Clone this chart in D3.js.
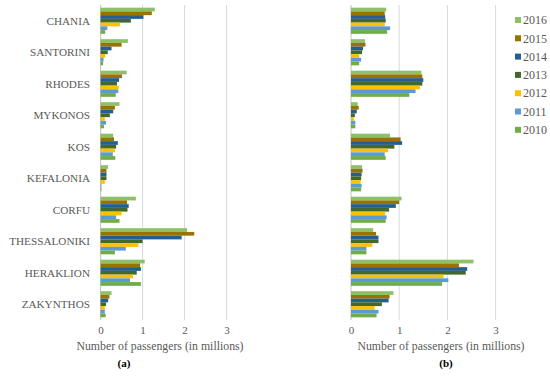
<!DOCTYPE html>
<html lang="en">
<head>
    <meta charset="UTF-8">
    <title>Passengers per airport</title>
    <script src="https://cdn.jsdelivr.net/npm/d3@7/dist/d3.min.js"></script>
    <style>
        body { margin: 0; background: #fff; }
    </style>
</head>
<body>
    <script>
        var categories = ["CHANIA", "SANTORINI", "RHODES", "MYKONOS", "KOS",
                          "KEFALONIA", "CORFU", "THESSALONIKI", "HERAKLION", "ZAKYNTHOS"];
        var years = ["2016", "2015", "2014", "2013", "2012", "2011", "2010"];
        var colors = ["#8cc168", "#997300", "#255e91", "#43682b", "#ffc000", "#5b9bd5", "#70ad47"];
        var xTicks = [0, 1, 2, 3];

        // panel (a), one array per year in category order
        var a2016 = [1.29, 0.65, 0.62, 0.45, 0.30, 0.18, 0.84, 2.06, 1.05, 0.26];
        var a2015 = [1.22, 0.50, 0.51, 0.34, 0.32, 0.14, 0.63, 2.23, 0.94, 0.21];
        var a2014 = [1.02, 0.26, 0.44, 0.30, 0.41, 0.14, 0.67, 1.93, 0.96, 0.18];
        var a2013 = [0.72, 0.17, 0.39, 0.22, 0.37, 0.14, 0.64, 1.00, 0.86, 0.13];
        var a2012 = [0.46, 0.11, 0.43, 0.10, 0.34, 0.10, 0.50, 0.90, 0.77, 0.10];
        var a2011 = [0.16, 0.07, 0.42, 0.13, 0.29, 0.02, 0.37, 0.60, 0.70, 0.10];
        var a2010 = [0.11, 0.06, 0.36, 0.08, 0.35, 0.02, 0.45, 0.34, 0.96, 0.12];

        // panel (b)
        var b2016 = [0.73, 0.29, 1.46, 0.14, 0.81, 0.23, 1.05, 0.46, 2.54, 0.88];
        var b2015 = [0.70, 0.30, 1.48, 0.16, 1.03, 0.24, 1.00, 0.52, 2.24, 0.80];
        var b2014 = [0.71, 0.25, 1.50, 0.12, 1.06, 0.22, 0.93, 0.57, 2.41, 0.78];
        var b2013 = [0.72, 0.23, 1.48, 0.08, 0.90, 0.21, 0.79, 0.57, 2.38, 0.64];
        var b2012 = [0.70, 0.17, 1.43, 0.06, 0.77, 0.20, 0.71, 0.44, 1.92, 0.49];
        var b2011 = [0.81, 0.21, 1.34, 0.09, 0.70, 0.22, 0.74, 0.32, 2.02, 0.57];
        var b2010 = [0.75, 0.17, 1.21, 0.09, 0.72, 0.21, 0.72, 0.32, 1.89, 0.53];

        var seriesA = [a2016, a2015, a2014, a2013, a2012, a2011, a2010];
        var seriesB = [b2016, b2015, b2014, b2013, b2012, b2011, b2010];

        var serif = "'Liberation Serif', 'Times New Roman', Times, serif";

        var width = 550, height = 377;
        var svg = d3.select("body").append("svg")
                .attr("width", width).attr("height", height)
                .style("font-family", serif);

        var y = d3.scaleBand().domain(categories).range([5, 320])
                .paddingInner(0.17).paddingOuter(0.085);
        var yInner = d3.scaleBand().domain(years).range([0, y.bandwidth()]);
        var color = d3.scaleOrdinal().domain(years).range(colors);

        /* one panel */
        function drawPanel(series, x, titleX, tag) {
            var g = svg.append("g");

            // gridlines
            g.selectAll("line.grid").data(xTicks).enter().append("line")
                    .attr("x1", function(d){ return x(d); })
                    .attr("x2", function(d){ return x(d); })
                    .attr("y1", 5).attr("y2", 320)
                    .attr("stroke", function(d){ return d === 0 ? "#bfbfbf" : "#d9d9d9"; })
                    .attr("stroke-width", 1);

            // bars
            var rows = [];
            categories.forEach(function(c, i){
                years.forEach(function(yr, j){
                    rows.push({cat: c, year: yr, value: series[j][i]});
                });
            });
            g.selectAll("rect").data(rows).enter().append("rect")
                    .attr("x", x(0))
                    .attr("y", function(d){ return y(d.cat) + yInner(d.year); })
                    .attr("width", function(d){ return x(d.value) - x(0); })
                    .attr("height", yInner.bandwidth())
                    .attr("fill", function(d){ return color(d.year); });

            // x axis labels
            var axis = d3.axisBottom(x).tickValues(xTicks).tickFormat(d3.format("d"))
                    .tickSize(0).tickPadding(0);
            var ax = g.append("g").attr("transform", "translate(0,326)").call(axis)
                    .attr("font-family", serif).attr("font-size", 11);
            ax.select(".domain").remove();
            ax.selectAll("text").attr("fill", "#595959");

            g.append("text").attr("x", titleX).attr("y", 350)
                    .attr("text-anchor", "middle").attr("font-size", "11.8px")
                    .attr("fill", "#595959")
                    .text("Number of passengers (in millions)");

            g.append("text").attr("x", tag.x).attr("y", 367)
                    .attr("text-anchor", "middle").attr("font-size", "11px")
                    .attr("font-weight", "bold").attr("fill", "#000")
                    .text(tag.label);
        }

        var xA = d3.scaleLinear().domain([0, 3]).range([100.6, 226.6]);
        var xB = d3.scaleLinear().domain([0, 3]).range([351, 495.6]);

        drawPanel(seriesA, xA, 160, {x: 124, label: "(a)"});
        drawPanel(seriesB, xB, 441, {x: 446, label: "(b)"});

        /* category labels */
        svg.append("g").selectAll("text").data(categories).enter().append("text")
                .attr("x", 90)
                .attr("y", function(d){ return y(d) + y.bandwidth() / 2; })
                .attr("dy", "0.35em").attr("text-anchor", "end")
                .attr("font-size", "11.2px").attr("fill", "#595959")
                .text(function(d){ return d; });

        /* legend */
        var legend = svg.append("g").selectAll("g").data(years).enter().append("g")
                .attr("transform", function(d, i){ return "translate(515," + (20 + i * 18.3) + ")"; });
        legend.append("rect").attr("x", 0).attr("y", -3).attr("width", 6).attr("height", 6)
                .attr("fill", function(d){ return color(d); });
        legend.append("text").attr("x", 8).attr("dy", "0.35em")
                .attr("font-size", "12px").attr("fill", "#595959")
                .text(function(d){ return d; });
    </script>
</body>
</html>
